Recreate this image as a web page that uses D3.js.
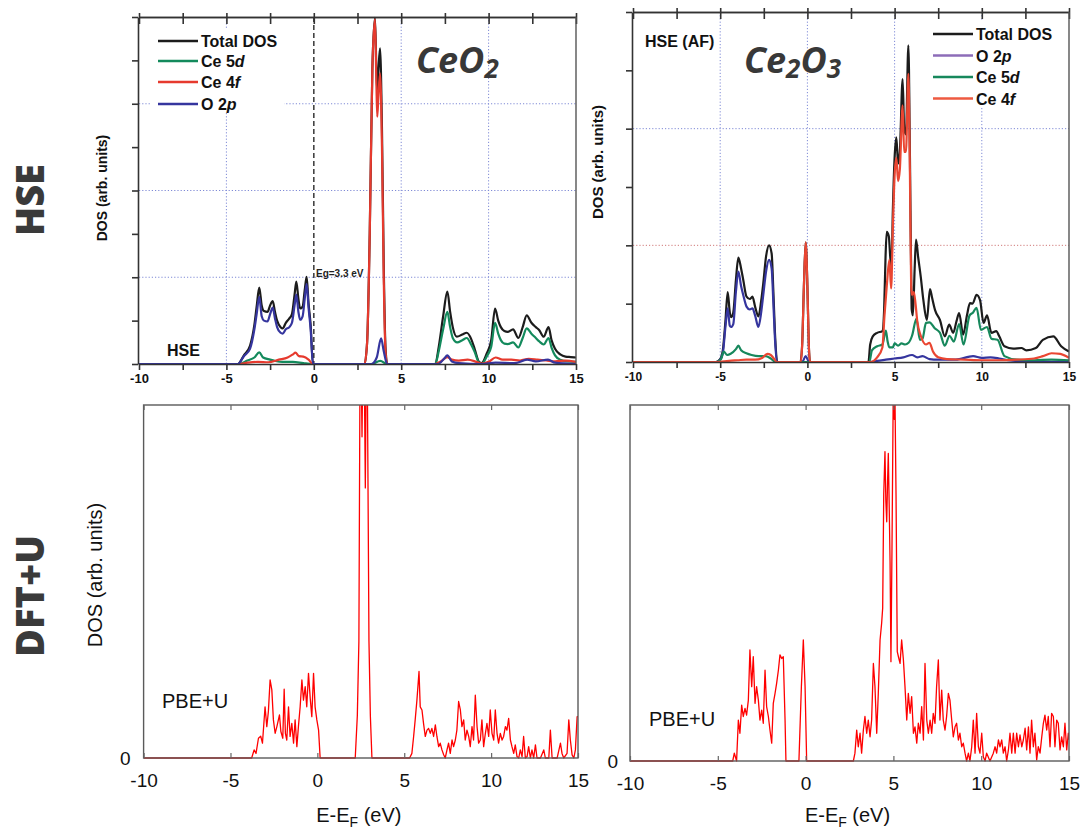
<!DOCTYPE html>
<html><head><meta charset="utf-8">
<script src="https://cdn.jsdelivr.net/npm/d3@7"></script>
<style>body{margin:0;background:#fff}svg{display:block}</style>
</head><body>
<script>
// ---------- shared ticks / labels ----------
const energyTicks = [-10, -5, 0, 5, 10, 15];
const energyMinorTicks = [-10, -7.5, -5, -2.5, 0, 2.5, 5, 7.5, 10, 12.5, 15];
const ceo2DosTicks = [0, 1, 2, 3, 4, 5, 6, 7, 8];
const ce2o3DosTicks = [0, 1, 2, 3, 4, 5, 6];
const ceo2LegendNames = ["Total DOS", "Ce 5d", "Ce 4f", "O 2p"];
const ce2o3LegendNames = ["Total DOS", "O 2p", "Ce 5d", "Ce 4f"];

// ---------- CeO2, HSE: projected DOS [E - EF (eV), DOS] ----------
const ceo2HseTotal = [[-10,0],[-4.35,0],[-4.0,0.2],[-3.65,0.42],[-3.4,0.9],[-3.27,1.32],[-3.12,1.76],[-2.98,1.35],[-2.85,1.22],[-2.65,1.2],[-2.5,1.35],[-2.35,1.45],[-2.22,1.2],[-2.1,1.0],[-1.9,0.85],[-1.78,0.82],[-1.6,0.95],[-1.4,1.05],[-1.25,1.15],[-1.1,1.6],[-1.0,1.9],[-0.88,1.5],[-0.78,1.28],[-0.64,1.32],[-0.52,1.7],[-0.41,2.01],[-0.3,1.4],[-0.18,0.9],[-0.05,0],
  [2.9,0],[3.05,0.5],[3.2,3.0],[3.35,6.8],[3.5,7.98],[3.58,6.8],[3.63,6.3],[3.7,6.8],[3.79,7.28],[3.9,5.4],[4.0,2.3],[4.1,0.4],[4.2,0],
  [6.95,0],[7.15,0.4],[7.4,1.1],[7.64,1.67],[7.8,1.2],[7.95,0.85],[8.18,0.63],[8.5,0.68],[8.75,0.72],[9.0,0.58],[9.2,0.35],[9.45,0.05],[9.6,0.02],[9.9,0.25],[10.15,0.55],[10.37,1.28],[10.55,1.0],[10.7,0.85],[10.9,0.76],[11.1,0.74],[11.4,0.8],[11.7,0.6],[11.95,0.85],[12.18,1.12],[12.45,0.95],[12.7,0.85],[12.9,0.78],[13.15,0.63],[13.43,0.85],[13.6,0.55],[13.8,0.35],[14.1,0.22],[14.4,0.17],[14.7,0.16],[15,0.15]];
const ceo2HseCe5d = [[-10,0],[-4.3,0],[-3.8,0.08],[-3.4,0.15],[-3.12,0.27],[-2.9,0.15],[-2.5,0.1],[-2.2,0.07],[-1.8,0.05],[-1.2,0.05],[-0.6,0.02],[-0.1,0],
  [3.3,0],[3.8,0.07],[4.2,0],
  [6.95,0],[7.15,0.3],[7.4,0.8],[7.64,1.2],[7.8,0.85],[7.95,0.6],[8.2,0.5],[8.5,0.55],[8.75,0.6],[9.0,0.45],[9.2,0.28],[9.45,0.03],[9.6,0],[9.9,0.18],[10.15,0.4],[10.37,0.95],[10.55,0.7],[10.7,0.55],[10.9,0.47],[11.1,0.46],[11.4,0.5],[11.7,0.38],[11.95,0.6],[12.18,0.82],[12.45,0.7],[12.7,0.6],[12.9,0.52],[13.15,0.45],[13.43,0.6],[13.6,0.38],[13.8,0.2],[14.1,0.1],[14.5,0.06],[15,0.05]];
const ceo2HseCe4f = [[-10,0],[-4.3,0],[-3.8,0.03],[-3.2,0.05],[-2.6,0.04],[-2.0,0.1],[-1.5,0.15],[-1.2,0.22],[-1.05,0.26],[-0.85,0.18],[-0.6,0.17],[-0.3,0.1],[-0.05,0],
  [2.9,0],[3.05,0.5],[3.2,3.0],[3.35,6.8],[3.5,7.95],[3.58,6.5],[3.63,5.7],[3.7,6.2],[3.79,6.7],[3.9,5.0],[4.0,2.0],[4.1,0.3],[4.2,0],
  [6.95,0],[7.3,0.07],[7.64,0.16],[7.9,0.1],[8.3,0.08],[8.8,0.1],[9.3,0.05],[9.6,0.01],[10.0,0.05],[10.4,0.15],[10.8,0.1],[11.3,0.1],[11.8,0.08],[12.3,0.12],[12.8,0.1],[13.3,0.08],[13.8,0.06],[14.4,0.08],[15,0.05]];
const ceo2HseO2p = [[-10,0],[-4.35,0],[-4.0,0.18],[-3.65,0.35],[-3.4,0.8],[-3.27,1.15],[-3.12,1.55],[-2.98,1.1],[-2.85,1.0],[-2.65,0.98],[-2.5,1.15],[-2.35,1.3],[-2.22,1.05],[-2.1,0.85],[-1.9,0.72],[-1.78,0.7],[-1.6,0.8],[-1.4,0.85],[-1.25,0.95],[-1.1,1.35],[-1.0,1.6],[-0.88,1.2],[-0.78,1.02],[-0.64,1.1],[-0.52,1.5],[-0.41,1.85],[-0.3,1.3],[-0.18,0.8],[-0.05,0],
  [3.3,0],[3.6,0.15],[3.85,0.59],[4.0,0.3],[4.2,0],
  [7.1,0],[7.45,0.12],[7.64,0.2],[7.9,0.06],[8.3,0.02],[9.6,0],[10.4,0.03],[11.5,0.02],[12.2,0.1],[12.7,0.06],[13.4,0.1],[13.8,0.03],[14.5,0.01],[15,0]];

// ---------- Ce2O3, HSE (AF): projected DOS ----------
const ce2o3HseTotal = [[-10,0],[-5.25,0],[-5.0,0.05],[-4.85,0.2],[-4.7,0.7],[-4.57,1.2],[-4.45,0.85],[-4.38,0.77],[-4.25,0.85],[-4.1,1.4],[-3.96,1.79],[-3.8,1.6],[-3.68,1.41],[-3.49,1.12],[-3.3,1.08],[-3.15,1.12],[-3.0,0.95],[-2.81,0.78],[-2.65,1.05],[-2.53,1.35],[-2.37,1.81],[-2.2,2.0],[-2.05,1.86],[-1.95,1.2],[-1.86,0.5],[-1.73,0],
  [-0.4,0],[-0.3,0.3],[-0.2,1.3],[-0.1,2.05],[0.0,1.3],[0.08,0.3],[0.15,0],
  [3.5,0],[3.6,0.3],[3.75,0.44],[4.0,0.5],[4.3,0.53],[4.4,0.9],[4.48,1.8],[4.55,2.23],[4.67,2.15],[4.75,1.8],[4.82,1.6],[4.9,2.6],[5.0,3.5],[5.1,3.85],[5.2,3.4],[5.3,3.6],[5.46,4.85],[5.55,4.0],[5.65,3.9],[5.79,5.43],[5.88,3.5],[5.95,1.5],[5.98,0.9],[6.05,0.8],[6.15,1.6],[6.23,2.1],[6.35,1.8],[6.5,1.46],[6.65,1.06],[6.85,0.72],[7.03,1.25],[7.15,1.1],[7.32,0.89],[7.6,0.72],[7.88,0.44],[8.13,0.64],[8.36,0.5],[8.55,0.7],[8.7,0.84],[8.93,0.47],[9.15,0.8],[9.32,1.01],[9.47,1.0],[9.7,1.15],[9.9,1.06],[10.1,0.67],[10.3,0.8],[10.55,0.5],[10.83,0.53],[11.0,0.44],[11.3,0.27],[11.8,0.23],[12.27,0.24],[12.55,0.2],[13.1,0.24],[13.5,0.38],[14.1,0.44],[14.55,0.27],[15,0.18]];
const ce2o3HseO2p = [[-10,0],[-5.2,0],[-5.0,0.04],[-4.85,0.15],[-4.7,0.6],[-4.57,0.92],[-4.45,0.62],[-4.38,0.6],[-4.25,0.65],[-4.1,1.2],[-3.96,1.55],[-3.8,1.3],[-3.68,1.15],[-3.49,0.95],[-3.3,0.9],[-3.15,0.92],[-3.0,0.8],[-2.81,0.6],[-2.65,0.85],[-2.53,1.15],[-2.37,1.55],[-2.2,1.75],[-2.05,1.6],[-1.95,1.0],[-1.86,0.4],[-1.75,0],
  [-0.3,0],[-0.1,0.1],[0.1,0],
  [3.6,0],[4.0,0.02],[4.5,0.04],[5.0,0.06],[5.5,0.08],[6.0,0.12],[6.3,0.08],[6.6,0.1],[7.0,0.05],[7.5,0.04],[8.5,0.04],[9.5,0.1],[10.0,0.07],[10.5,0.08],[11.0,0.06],[11.5,0.03],[12.5,0.01],[15,0]];
const ce2o3HseCe5d = [[-10,0],[-5.2,0],[-4.95,0.05],[-4.8,0.18],[-4.6,0.12],[-4.4,0.14],[-4.1,0.22],[-3.96,0.28],[-3.8,0.2],[-3.5,0.15],[-3.2,0.12],[-2.8,0.1],[-2.4,0.1],[-2.1,0.06],[-1.8,0],
  [3.55,0],[3.7,0.2],[4.0,0.27],[4.3,0.3],[4.5,0.54],[4.6,0.35],[4.7,0.25],[4.9,0.25],[5.0,0.32],[5.2,0.28],[5.4,0.32],[5.6,0.3],[5.8,0.33],[6.0,0.45],[6.25,0.74],[6.45,0.38],[6.6,0.4],[6.8,0.67],[7.0,0.68],[7.3,0.58],[7.6,0.5],[7.88,0.28],[8.15,0.45],[8.4,0.35],[8.7,0.65],[8.95,0.3],[9.3,0.8],[9.5,0.85],[9.7,0.93],[9.95,0.55],[10.3,0.6],[10.55,0.4],[10.9,0.38],[11.3,0.1],[12,0.04],[13,0.03],[14,0.04],[15,0.03]];
const ce2o3HseCe4f = [[-10,0],[-5.2,0],[-4.5,0.02],[-4.0,0.03],[-3.5,0.04],[-3.0,0.04],[-2.6,0.07],[-2.3,0.14],[-2.1,0.12],[-1.9,0.05],[-1.75,0],
  [-0.38,0],[-0.3,0.3],[-0.2,1.3],[-0.1,2.05],[0.0,1.3],[0.08,0.3],[0.15,0],
  [3.6,0],[4.0,0.08],[4.3,0.25],[4.42,0.8],[4.55,1.3],[4.7,1.75],[4.8,1.26],[4.9,2.3],[5.0,3.2],[5.1,3.5],[5.2,3.1],[5.3,3.3],[5.46,4.4],[5.55,3.6],[5.65,3.6],[5.79,4.94],[5.88,3.2],[5.95,1.3],[6.0,1.15],[6.1,1.2],[6.2,1.0],[6.3,0.7],[6.5,0.45],[6.8,0.3],[7.0,0.33],[7.2,0.18],[7.5,0.08],[8,0.05],[9,0.04],[10,0.03],[11,0.03],[12,0.04],[13,0.06],[13.5,0.1],[14,0.15],[14.5,0.14],[15,0.07]];

// ---------- PBE+U total DOS ----------
const ceo2PbeU = [[-10,0],[-3.78,0],[-3.64,0.23],[-3.53,0.13],[-3.39,0.56],[-3.26,0.62],[-3.16,0.42],[-3.01,1.45],[-2.91,0.89],[-2.82,1.31],[-2.72,2.21],[-2.62,1.93],[-2.53,1.08],[-2.43,0.70],[-2.33,0.89],[-2.18,1.22],[-2.10,0.75],[-1.99,0.56],[-1.91,1.95],[-1.84,0.70],[-1.76,0.51],[-1.66,1.45],[-1.57,0.61],[-1.47,0.98],[-1.37,0.42],[-1.28,1.08],[-1.18,0.32],[-1.09,0.89],[-0.99,1.45],[-0.89,2.21],[-0.80,1.64],[-0.70,2.02],[-0.61,1.45],[-0.51,2.40],[-0.41,1.69],[-0.32,1.17],[-0.22,2.40],[-0.13,1.45],[-0.03,1.08],[0.07,0.79],[0.16,0],
  [2.18,0],[2.30,1.2],[2.39,3.3],[2.45,10.5],[2.5,12],[2.57,9.1],[2.63,12],[2.7,11],[2.76,7.65],[2.82,11.5],[2.88,10.5],[2.97,3.3],[3.05,1.2],[3.14,0],
  [5.31,0],[5.44,0.13],[5.54,0.61],[5.63,1.08],[5.73,1.64],[5.85,2.45],[5.92,1.45],[6.02,1.36],[6.11,0.98],[6.21,0.61],[6.31,0.79],[6.40,0.84],[6.50,0.70],[6.59,0.84],[6.69,0.61],[6.79,0.94],[6.88,0.61],[6.98,0.32],[7.07,0.42],[7.17,0.23],[7.27,0.09],[7.36,0],[7.46,0.23],[7.55,0.42],[7.65,0.13],[7.75,0.51],[7.84,0.32],[7.94,0.51],[8.03,0.79],[8.13,1.60],[8.23,1.36],[8.32,0.89],[8.42,1.08],[8.51,0.51],[8.61,0.79],[8.71,0.61],[8.80,0.32],[8.90,0.89],[8.99,0.51],[9.09,1.78],[9.19,0.89],[9.28,0.42],[9.38,0.51],[9.47,1.08],[9.57,0.32],[9.67,0.70],[9.76,0.98],[9.86,0.61],[9.95,1.36],[10.05,0.70],[10.15,0.51],[10.24,1.36],[10.34,0.70],[10.43,0.42],[10.53,0.70],[10.63,0.51],[10.72,0.61],[10.82,0.89],[10.91,0.79],[11.01,1.12],[11.11,0.51],[11.20,0.32],[11.30,0.13],[11.39,0.37],[11.49,0.04],[11.59,0],[11.68,0.23],[11.78,0.04],[11.87,0.61],[11.97,0],[12.07,0.04],[12.16,0.32],[12.26,0],[12.35,0.23],[12.45,0],[12.55,0.37],[12.64,0],[12.84,0],[13.03,0.23],[13.12,0],[13.32,0],[13.41,0.79],[13.51,0],[13.80,0],[13.99,0.42],[14.08,0.13],[14.18,0],[14.37,0.13],[14.47,1.08],[14.56,0.51],[14.66,0.09],[14.76,0],[14.85,0.23],[14.95,1.17],[15,1.17]];
const ce2o3PbeU = [[-10,0],[-4.15,0],[-4.06,0.22],[-3.93,0],[-3.83,1.15],[-3.74,0.78],[-3.64,1.57],[-3.55,1.25],[-3.45,1.48],[-3.36,1.29],[-3.26,1.71],[-3.17,3.12],[-3.07,2.09],[-2.98,2.93],[-2.88,1.62],[-2.79,2.09],[-2.69,1.71],[-2.60,1.15],[-2.50,1.43],[-2.41,1.06],[-2.31,2.55],[-2.22,1.53],[-2.12,1.25],[-2.03,0.87],[-1.93,0.50],[-1.84,1.62],[-1.74,1.90],[-1.65,2.18],[-1.55,2.55],[-1.46,2.98],[-1.36,2.88],[-1.27,2.93],[-1.17,1.15],[-1.12,0],
  [-0.38,0],[-0.24,2.09],[-0.13,3.40],[-0.03,2.09],[0.06,0],
  [2.72,0],[2.81,0.22],[2.91,0.87],[3.0,0.40],[3.1,0.78],[3.19,0.22],[3.29,0.87],[3.38,1.25],[3.48,0.78],[3.57,1.15],[3.67,0.68],[3.76,1.15],[3.86,2.74],[3.95,2.09],[4.05,0.78],[4.14,1.90],[4.24,3.4],[4.33,3.87],[4.39,4.3],[4.45,7.5],[4.52,8.69],[4.57,7.3],[4.62,6.72],[4.67,7.9],[4.71,8.64],[4.76,7.2],[4.81,5.6],[4.86,2.79],[4.92,6.0],[4.99,10.3],[5.05,9.6],[5.09,10.2],[5.15,7.47],[5.22,3.07],[5.3,2.9],[5.38,2.74],[5.47,3.40],[5.57,2.84],[5.66,2.09],[5.76,1.15],[5.85,1.90],[5.95,1.34],[6.04,1.81],[6.14,0.78],[6.23,0.96],[6.33,0.50],[6.42,1.06],[6.52,0.78],[6.61,1.53],[6.71,0.59],[6.80,2.74],[6.90,1.15],[6.99,0.78],[7.09,1.15],[7.18,0.78],[7.27,1.34],[7.37,1.06],[7.46,2.09],[7.56,2.84],[7.65,1.15],[7.75,1.99],[7.84,1.15],[7.94,0.87],[8.03,1.25],[8.13,1.90],[8.22,1.71],[8.32,1.15],[8.41,0.68],[8.51,0.96],[8.60,1.06],[8.70,0.59],[8.79,0.78],[8.89,0.40],[8.98,0.50],[9.08,0.22],[9.17,0],[9.27,0.22],[9.36,0],[9.46,0.40],[9.55,1.15],[9.65,0.22],[9.74,1.34],[9.84,0.40],[9.93,0.22],[10.03,0.78],[10.12,0.12],[10.22,0],[10.31,0.22],[10.5,0],[10.69,0.22],[10.79,0.40],[10.88,0.22],[10.98,0.59],[11.07,0.40],[11.17,0.59],[11.26,0.22],[11.36,0.40],[11.45,0],[11.55,0.31],[11.64,0.78],[11.74,0.22],[11.83,0.78],[11.93,0.22],[12.02,0.78],[12.12,0.40],[12.21,0.73],[12.31,0.40],[12.40,0.59],[12.50,0.92],[12.59,0.31],[12.69,0.96],[12.78,0.22],[12.87,1.15],[12.97,0.40],[13.06,0.78],[13.16,0.03],[13.25,0.40],[13.35,0.22],[13.45,0.68],[13.54,1.06],[13.63,1.29],[13.73,0.87],[13.82,1.25],[13.92,0.40],[14.01,1.34],[14.11,1.25],[14.20,0.40],[14.30,1.15],[14.39,1.06],[14.49,0.31],[14.58,0.68],[14.68,0.40],[14.77,1.06],[14.87,0.31],[14.96,0.78],[15,0.6]];

// ---------- drawing ----------
const W = 1086, H = 830;
const svg = d3.select("body").append("svg").attr("width", W).attr("height", H)
  .style("font-family", "'Liberation Sans', Arial, sans-serif");

const BOLD = "'Liberation Sans', Arial, sans-serif";
const plainNumber = d => String(d);  // ASCII hyphen for negative tick labels
let clipId = 0;
function clip(x0, y0, x1, y1) {
  const id = "clip" + (clipId++);
  svg.append("clipPath").attr("id", id).append("rect")
    .attr("x", x0).attr("y", y0).attr("width", x1 - x0).attr("height", y1 - y0);
  return "url(#" + id + ")";
}
function styleAxis(g, color, width) {
  g.selectAll("path.domain").attr("stroke", color).attr("stroke-width", width);
  g.selectAll(".tick line").attr("stroke", color).attr("stroke-width", width);
}
function addLegendText(sel, name, x, y) {
  const t = sel.append("text").attr("x", x).attr("y", y)
    .attr("font-family", BOLD).attr("font-weight", "bold").attr("font-size", 16).attr("fill", "#111");
  const m = name.match(/^(.*\d)([a-z])$/);
  if (m) { t.append("tspan").text(m[1]); t.append("tspan").attr("font-style", "italic").text(m[2]); }
  else t.text(name);
}

// HSE style panel (top row)
function hsePanel(o) {
  const x = d3.scaleLinear().domain([-10, 15]).range([o.x0, o.x1]);
  const y = d3.scaleLinear().domain([0, o.ymax]).range([o.yb, o.yt]);
  const g = svg.append("g");
  // grid
  o.vGrid.forEach(v => g.append("line").attr("x1", x(v)).attr("x2", x(v)).attr("y1", o.yt).attr("y2", o.yb)
    .attr("stroke", "#7f8ad6").attr("stroke-width", 1).attr("stroke-dasharray", "1.2,2"));
  o.hGrid.forEach(h => g.append("line").attr("x1", o.x0).attr("x2", o.x1).attr("y1", y(h[0])).attr("y2", y(h[0]))
    .attr("stroke", h[1]).attr("stroke-width", 1).attr("stroke-dasharray", "1.2,2"));
  if (o.fermi) g.append("line").attr("x1", x(0)).attr("x2", x(0)).attr("y1", o.yt).attr("y2", o.yb)
    .attr("stroke", "#444").attr("stroke-width", 1.6).attr("stroke-dasharray", "5,3");
  // legend background
  g.append("rect").attr("x", o.legBox[0]).attr("y", o.legBox[1]).attr("width", o.legBox[2]).attr("height", o.legBox[3]).attr("fill", "#fff");
  // curves
  const line = d3.line().x(d => x(d[0])).y(d => y(d[1])).curve(d3.curveMonotoneX);
  const cg = g.append("g").attr("clip-path", clip(o.x0, o.yt - 2, o.x1, o.yb + 2));
  o.series.forEach(s => cg.append("path").datum(s.data).attr("d", line)
    .attr("fill", "none").attr("stroke", s.color).attr("stroke-width", 2.2).attr("stroke-linejoin", "round"));
  // axes
  const bottom = g.append("g").attr("transform", `translate(0,${o.yb})`)
    .call(d3.axisBottom(x).tickValues(energyMinorTicks).tickSizeInner(6).tickSizeOuter(0).tickPadding(4)
      .tickFormat(d => energyTicks.includes(d) ? plainNumber(d) : ""));
  styleAxis(bottom, "#333", 1.6);
  bottom.selectAll("text").attr("font-family", BOLD).attr("font-weight", "bold").attr("font-size", o.tickFont).attr("fill", "#111");
  const top = g.append("g").attr("transform", `translate(0,${o.yt})`)
    .call(d3.axisTop(x).tickValues(energyMinorTicks).tickSizeInner(4).tickSizeOuter(0).tickFormat(""));
  styleAxis(top, "#333", 1.6);
  const topIn = g.append("g").attr("transform", `translate(0,${o.yt})`)
    .call(d3.axisTop(x).tickValues(energyMinorTicks).tickSizeInner(-7).tickSizeOuter(0).tickFormat(""));
  styleAxis(topIn, "#333", 1.6);
  const left = g.append("g").attr("transform", `translate(${o.x0 - 1},0)`)
    .call(d3.axisLeft(y).tickValues(o.yTicks).tickSizeInner(6).tickSizeOuter(0).tickFormat(""));
  styleAxis(left, "#333", 1.6);
  g.append("line").attr("x1", o.x1).attr("x2", o.x1).attr("y1", o.yt).attr("y2", o.yb).attr("stroke", "#555").attr("stroke-width", 1.4);
  // y label
  g.append("text").attr("transform", `translate(${o.yLabelX},${o.yLabelY}) rotate(-90)`).attr("text-anchor", "middle")
    .attr("font-family", BOLD).attr("font-weight", "bold").attr("font-size", o.yLabelFont).attr("fill", "#111")
    .text("DOS (arb. units)");
  // legend
  o.legend.forEach((l, i) => {
    g.append("line").attr("x1", o.legX).attr("x2", o.legX + 40).attr("y1", o.legY[i]).attr("y2", o.legY[i])
      .attr("stroke", l.color).attr("stroke-width", 2.4);
    addLegendText(g, l.name, o.legX + 43, o.legY[i] + 6);
  });
  return { g, x, y };
}

// PBE+U style panel (bottom row)
function pbePanel(o) {
  const x = d3.scaleLinear().domain([-10, 15]).range([o.x0, o.x1]);
  const y = d3.scaleLinear().domain([0, 10]).range([o.yb, o.yt]);
  const g = svg.append("g");
  const line = d3.line().x(d => x(d[0])).y(d => y(d[1]));
  g.append("g").attr("clip-path", clip(o.x0, o.yt, o.x1, o.yb + 2))
    .append("path").datum(o.data).attr("d", line)
    .attr("fill", "none").attr("stroke", "#ff0000").attr("stroke-width", 1.3).attr("stroke-linejoin", "round");
  g.append("rect").attr("x", o.x0).attr("y", o.yt).attr("width", o.x1 - o.x0).attr("height", o.yb - o.yt)
    .attr("fill", "none").attr("stroke", "#5a5a5a").attr("stroke-width", 1.4);
  const bottom = g.append("g").attr("transform", `translate(0,${o.yb})`)
    .call(d3.axisBottom(x).tickValues(energyTicks).tickSizeInner(-5).tickSizeOuter(0).tickPadding(16).tickFormat(plainNumber));
  styleAxis(bottom, "#666", 1.2);
  bottom.select("path.domain").remove();
  bottom.selectAll("text").attr("font-size", 19).attr("fill", "#111").attr("font-family", "'Liberation Sans', Arial, sans-serif");
  const top = g.append("g").attr("transform", `translate(0,${o.yt})`)
    .call(d3.axisTop(x).tickValues(energyTicks).tickSizeInner(-5).tickSizeOuter(0).tickFormat(""));
  styleAxis(top, "#666", 1.2);
  top.select("path.domain").remove();
  const left = g.append("g").attr("transform", `translate(${o.x0},0)`)
    .call(d3.axisLeft(y).tickValues([0]).tickSize(0).tickPadding(o.zeroPad).tickFormat(plainNumber));
  left.select("path.domain").remove();
  left.selectAll("text").attr("font-size", 19).attr("fill", "#111").attr("font-family", "'Liberation Sans', Arial, sans-serif");
  // x label with subscript F
  const xl = g.append("text").attr("x", (o.x0 + o.x1) / 2 - 2).attr("y", 822).attr("text-anchor", "middle")
    .attr("font-size", 20).attr("fill", "#111");
  xl.append("tspan").text("E-E");
  xl.append("tspan").attr("font-size", 14).attr("dy", 5).text("F");
  xl.append("tspan").attr("dy", -5).text(" (eV)");
  g.append("text").attr("x", o.noteX).attr("y", o.noteY).attr("font-size", 20).attr("fill", "#111").text("PBE+U");
  return { g, x, y };
}

// ---- top left: CeO2 HSE ----
const tl = hsePanel({
  x0: 139, x1: 576, yb: 364, yt: 17, ymax: 8, yTicks: ceo2DosTicks,
  vGrid: [-5, 5, 10], hGrid: [[2, "#7f8ad6"], [4, "#7f8ad6"], [6, "#7f8ad6"]], fermi: true,
  legBox: [150, 29, 134, 82],
  series: [
    { data: ceo2HseTotal, color: "#1c1c1c" },
    { data: ceo2HseCe5d, color: "#138a5c" },
    { data: ceo2HseCe4f, color: "#e63a2e" },
    { data: ceo2HseO2p, color: "#35359e" }
  ],
  legend: ceo2LegendNames.map((n, i) => ({ name: n, color: ["#1c1c1c", "#138a5c", "#e63a2e", "#35359e"][i] })),
  legX: 158, legY: [41, 61, 82, 104],
  tickFont: 13, yLabelX: 107, yLabelY: 188, yLabelFont: 14
});
tl.g.append("text").attr("x", 316).attr("y", 277).attr("font-family", BOLD).attr("font-weight", "bold")
  .attr("font-size", 10).attr("fill", "#222").text("Eg=3.3 eV");
tl.g.append("text").attr("x", 167).attr("y", 356).attr("font-family", BOLD).attr("font-weight", "bold")
  .attr("font-size", 16).attr("fill", "#111").text("HSE");

// ---- top right: Ce2O3 HSE (AF) ----
const tr = hsePanel({
  x0: 633, x1: 1069, yb: 362, yt: 12, ymax: 6, yTicks: ce2o3DosTicks,
  vGrid: [-5, 0, 5, 10], hGrid: [[2, "#d07a7a"], [4, "#7f8ad6"]], fermi: false,
  legBox: [929, 20, 138, 88],
  series: [
    { data: ce2o3HseTotal, color: "#1c1c1c" },
    { data: ce2o3HseO2p, color: "#35359e" },
    { data: ce2o3HseCe5d, color: "#17885c" },
    { data: ce2o3HseCe4f, color: "#ea4632" }
  ],
  legend: ce2o3LegendNames.map((n, i) => ({ name: n, color: ["#1c1c1c", "#8d6cb8", "#17885c", "#ee5a40"][i] })),
  legX: 933, legY: [34, 55.5, 77, 98.5],
  tickFont: 12, yLabelX: 603, yLabelY: 162, yLabelFont: 15
});
tr.g.append("text").attr("x", 645).attr("y", 47).attr("font-family", BOLD).attr("font-weight", "bold")
  .attr("font-size", 16).attr("fill", "#111").text("HSE (AF)");

// compound titles
function formula(x, y, parts) {
  const t = svg.append("text").attr("x", x).attr("y", y).attr("font-family", "'Open Sans', sans-serif")
    .attr("font-weight", 700).attr("font-style", "italic").attr("font-size", 36).attr("fill", "#383838");
  parts.forEach(p => {
    if (p.sub) t.append("tspan").attr("font-size", 26).attr("dy", 5).text(p.t);
    else t.append("tspan").attr("dy", p.back ? -5 : 0).text(p.t);
  });
}
formula(416, 73, [{ t: "CeO" }, { t: "2", sub: true }]);
formula(744, 73, [{ t: "Ce" }, { t: "2", sub: true }, { t: "O", back: true }, { t: "3", sub: true }]);

// ---- bottom row: DFT+U (PBE+U) ----
pbePanel({ x0: 143.6, x1: 578, yb: 758, yt: 405, data: ceo2PbeU, zeroPad: 13, noteX: 162, noteY: 708 });
pbePanel({ x0: 630, x1: 1069, yb: 761, yt: 405, data: ce2o3PbeU, zeroPad: 12, noteX: 649, noteY: 726 });
svg.append("text").attr("transform", "translate(102,575) rotate(-90)").attr("text-anchor", "middle")
  .attr("font-size", 20).attr("fill", "#111").text("DOS (arb. units)");

// row labels
function rowLabel(y, txt) {
  svg.append("text").attr("transform", `translate(44,${y}) rotate(-90)`).attr("text-anchor", "middle")
    .attr("font-family", "'Open Sans', sans-serif").attr("font-weight", 800).attr("font-size", 38)
    .attr("fill", "#3a3a3a").text(txt);
}
rowLabel(200, "HSE");
rowLabel(596, "DFT+U");
</script>
</body></html>
